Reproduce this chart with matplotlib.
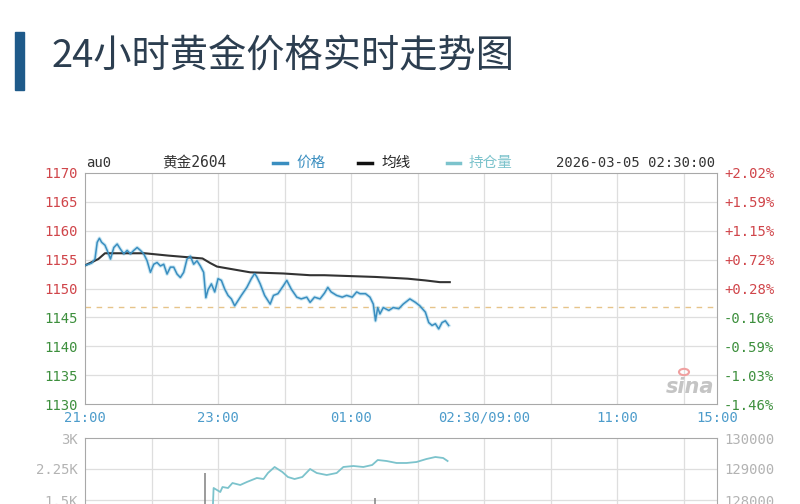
import matplotlib
matplotlib.use("Agg")
import matplotlib.pyplot as plt
from matplotlib.patches import Rectangle, Circle

plt.rcParams['font.family'] = ['DejaVu Sans Mono', 'Noto Sans CJK SC']

# ---------------- data ----------------
title = "24小时黄金价格实时走势图"
symbol = "au0"
contract = "黄金2604"
legend_labels = ["价格", "均线", "持仓量"]
timestamp = "2026-03-05 02:30:00"

# minutes after 21:00
price_t = [0, 6, 9, 11, 13, 15, 18, 20, 23, 26, 29, 32, 35, 38, 41, 44, 47, 50, 53, 56,
           59, 62, 65, 68, 71, 74, 77, 80, 83, 86, 89, 92, 95, 98, 101, 104, 107, 109, 111,
           114, 117, 120, 123, 126, 129, 132, 135, 138, 141, 146, 150, 153, 155, 158, 162,
           167, 170, 174, 179, 182, 186, 191, 195, 200, 203, 207, 212, 216, 219, 222, 227,
           232, 236, 241, 245, 248, 253, 257, 260, 262, 264, 266, 269, 274, 278, 283, 287,
           293, 298, 302, 307, 310, 313, 316, 319, 322, 325, 328]
price_v = [1154.0, 1154.4, 1155.1, 1158.0, 1158.7, 1158.0, 1157.5, 1156.6, 1155.1, 1157.1,
           1157.7, 1156.8, 1156.0, 1156.6, 1156.0, 1156.6, 1157.1, 1156.6, 1156.0, 1154.8,
           1152.8, 1154.2, 1154.5, 1153.9, 1154.2, 1152.5, 1153.7, 1153.7, 1152.5, 1151.9,
           1152.8, 1155.1, 1155.6, 1154.2, 1154.8, 1153.9, 1152.8, 1148.4, 1149.8, 1150.8,
           1149.4, 1151.7, 1151.4, 1149.9, 1148.8, 1148.2, 1147.0, 1147.9, 1148.8, 1150.2,
           1151.7, 1152.6, 1152.0, 1150.8, 1148.8, 1147.3, 1148.8, 1149.1, 1150.5, 1151.4,
           1149.9, 1148.5, 1148.2, 1148.5, 1147.6, 1148.5, 1148.2, 1149.2, 1150.2, 1149.4,
           1148.8, 1148.5, 1148.8, 1148.5, 1149.4, 1149.1, 1149.1, 1148.5, 1147.3, 1144.4,
           1146.7, 1145.6, 1146.7, 1146.2, 1146.7, 1146.5, 1147.3, 1148.2, 1147.6, 1147.0,
           1145.9, 1144.1, 1143.6, 1143.9, 1143.0, 1144.1, 1144.4, 1143.6]

avg_t = [0, 12, 18, 54, 75, 106, 113, 119, 149, 179, 203, 216, 262, 291, 307, 320, 329]
avg_v = [1154.0, 1155.1, 1156.1, 1156.1, 1155.7, 1155.2, 1154.4, 1153.8, 1152.8, 1152.6,
         1152.3, 1152.3, 1152.0, 1151.7, 1151.4, 1151.1, 1151.1]

ref_price = 1146.83

oi_t = [115, 116, 119, 122, 124, 129, 133, 140, 146, 155, 161, 165, 171, 178, 183, 189, 196,
        203, 209, 218, 227, 233, 242, 251, 259, 264, 272, 281, 290, 299, 308, 316, 323, 327]
oi_v = [127500, 128387, 128323, 128258, 128419, 128387, 128548, 128484, 128581, 128710,
        128677, 128871, 129065, 128903, 128742, 128677, 128742, 129000, 128871, 128806,
        128871, 129065, 129097, 129065, 129129, 129290, 129258, 129194, 129194, 129226,
        129323, 129387, 129355, 129258]

vol_t = [108, 262]
vol_v = [2150, 1550]

price_ticks = [1130, 1135, 1140, 1145, 1150, 1155, 1160, 1165, 1170]
pct_labels = ["-1.46%", "-1.03%", "-0.59%", "-0.16%", "+0.28%", "+0.72%", "+1.15%", "+1.59%", "+2.02%"]
time_ticks = [0, 120, 240, 360, 480, 570]
time_labels = ["21:00", "23:00", "01:00", "02:30/09:00", "11:00", "15:00"]
vol_ticks = [1500, 2250, 3000]
vol_labels = ["1.5K", "2.25K", "3K"]
oi_ticks = [128000, 129000, 130000]
oi_labels = ["128000", "129000", "130000"]

# ---------------- figure ----------------
W, H = 800, 504
fig = plt.figure(figsize=(8, 5.04), dpi=100)
fig.patch.set_facecolor('white')

def fx(x):
    return x / W

def fy(y):
    return 1 - y / H

RED = '#d0454a'
GREEN = '#3d8f3d'
BLUE = '#3a8ec0'
TEAL = '#7cc3cc'
GRID = '#dedede'
SPINE = '#a8a8a8'
TIMEC = '#4d9ccb'
LGRAY = '#b3b3b3'

# title and bar
fig.patches.append(Rectangle((fx(15), fy(90)), fx(9), 58 / H, transform=fig.transFigure,
                             color='#1e5a8a', zorder=5))
fig.text(fx(52), fy(57), title, fontsize=27.5, color='#2c3e50', va='center', ha='left',
         fontweight='light', family=['Noto Sans CJK SC', 'DejaVu Sans'])

# main axes
L, R = 85, 717
ax = fig.add_axes([fx(L), fy(404), (R - L) / W, (404 - 173) / H])
ax.set_xlim(0, 570)
ax.set_ylim(1130, 1170)
for g in range(60, 570, 60):
    ax.axvline(g, color=GRID, lw=0.9, zorder=0)
for p in price_ticks[1:-1]:
    ax.axhline(p, color=GRID, lw=0.9, zorder=0)
ax.axhline(ref_price, color='#e6c48a', lw=1.0, dashes=(4, 4), zorder=1)
ax.plot(avg_t, avg_v, color='#333333', lw=1.5, zorder=3)
ax.plot(price_t, price_v, color='#a6d6ea', lw=2.6, alpha=0.6, zorder=2, solid_joinstyle='round')
ax.plot(price_t, price_v, color=BLUE, lw=1.1, zorder=4)
for s in ax.spines.values():
    s.set_color(SPINE)
ax.set_yticks(price_ticks)
ax.set_yticklabels([str(p) for p in price_ticks], fontsize=10)
for lab, p in zip(ax.get_yticklabels(), price_ticks):
    lab.set_color(RED if p > ref_price else GREEN)
ax.set_xticks(time_ticks)
ax.set_xticklabels(time_labels, fontsize=10, color=TIMEC)
ax.tick_params(axis='both', length=0, pad=5)

axr = ax.twinx()
axr.set_ylim(1130, 1170)
axr.set_yticks(price_ticks)
axr.set_yticklabels(pct_labels, fontsize=10)
for lab, t in zip(axr.get_yticklabels(), pct_labels):
    lab.set_color(RED if t.startswith('+') else GREEN)
axr.tick_params(length=0, pad=5)
for s in axr.spines.values():
    s.set_visible(False)

# watermark
fig.text(fx(690), fy(387), "sina", fontsize=15, fontstyle='italic', fontweight='bold',
         color='#c4c4c4', ha='center', va='center', family='DejaVu Sans', zorder=6)
fig.patches.append(Circle((fx(684), fy(372)), 5 / W, transform=fig.transFigure,
                          fill=False, ec='#f0a0a0', lw=1.5, zorder=6))

# legend row
ly = 163
fig.text(fx(86), fy(ly), symbol, fontsize=10, color='#333333', va='center')
fig.text(fx(162), fy(ly), contract, fontsize=10.5, color='#333333', va='center')
fig.lines.append(plt.Line2D([fx(273), fx(287)], [fy(ly), fy(ly)], transform=fig.transFigure,
                            color=BLUE, lw=2.5))
fig.text(fx(296), fy(ly), legend_labels[0], fontsize=10.5, color=BLUE, va='center',
         family=['Noto Sans CJK SC'])
fig.lines.append(plt.Line2D([fx(358), fx(372)], [fy(ly), fy(ly)], transform=fig.transFigure,
                            color='#111111', lw=2.5))
fig.text(fx(381), fy(ly), legend_labels[1], fontsize=10.5, color='#222222', va='center',
         family=['Noto Sans CJK SC'])
fig.lines.append(plt.Line2D([fx(447), fx(460)], [fy(ly), fy(ly)], transform=fig.transFigure,
                            color=TEAL, lw=2.5))
fig.text(fx(469), fy(ly), legend_labels[2], fontsize=10.5, color=TEAL, va='center',
         family=['Noto Sans CJK SC'])
fig.text(fx(715), fy(ly), timestamp, fontsize=10, color='#333333', va='center', ha='right')

# volume / open interest axes (extends beyond bottom of image)
vtop, vbot = 438, 562
axv = fig.add_axes([fx(L), fy(vbot), (R - L) / W, (vbot - vtop) / H])
axv.set_xlim(0, 570)
axv.set_ylim(0, 3000)
for g in range(60, 570, 60):
    axv.axvline(g, color=GRID, lw=0.9, zorder=0)
for v in vol_ticks[:-1]:
    axv.axhline(v, color=GRID, lw=0.9, zorder=0)
axv.vlines(vol_t, 0, vol_v, color='#808080', lw=1.1, zorder=3)
axv.set_yticks(vol_ticks)
axv.set_yticklabels(vol_labels, fontsize=10, color=LGRAY)
axv.set_xticks([])
axv.tick_params(length=0, pad=5)
for s in axv.spines.values():
    s.set_color(SPINE)

axo = axv.twinx()
axo.set_ylim(126000, 130000)
axo.plot(oi_t, oi_v, color=TEAL, lw=1.3, zorder=4)
axo.set_yticks(oi_ticks)
axo.set_yticklabels(oi_labels, fontsize=10, color=LGRAY)
axo.tick_params(length=0, pad=5)
for s in axo.spines.values():
    s.set_visible(False)

fig.savefig("out.png", dpi=100)
